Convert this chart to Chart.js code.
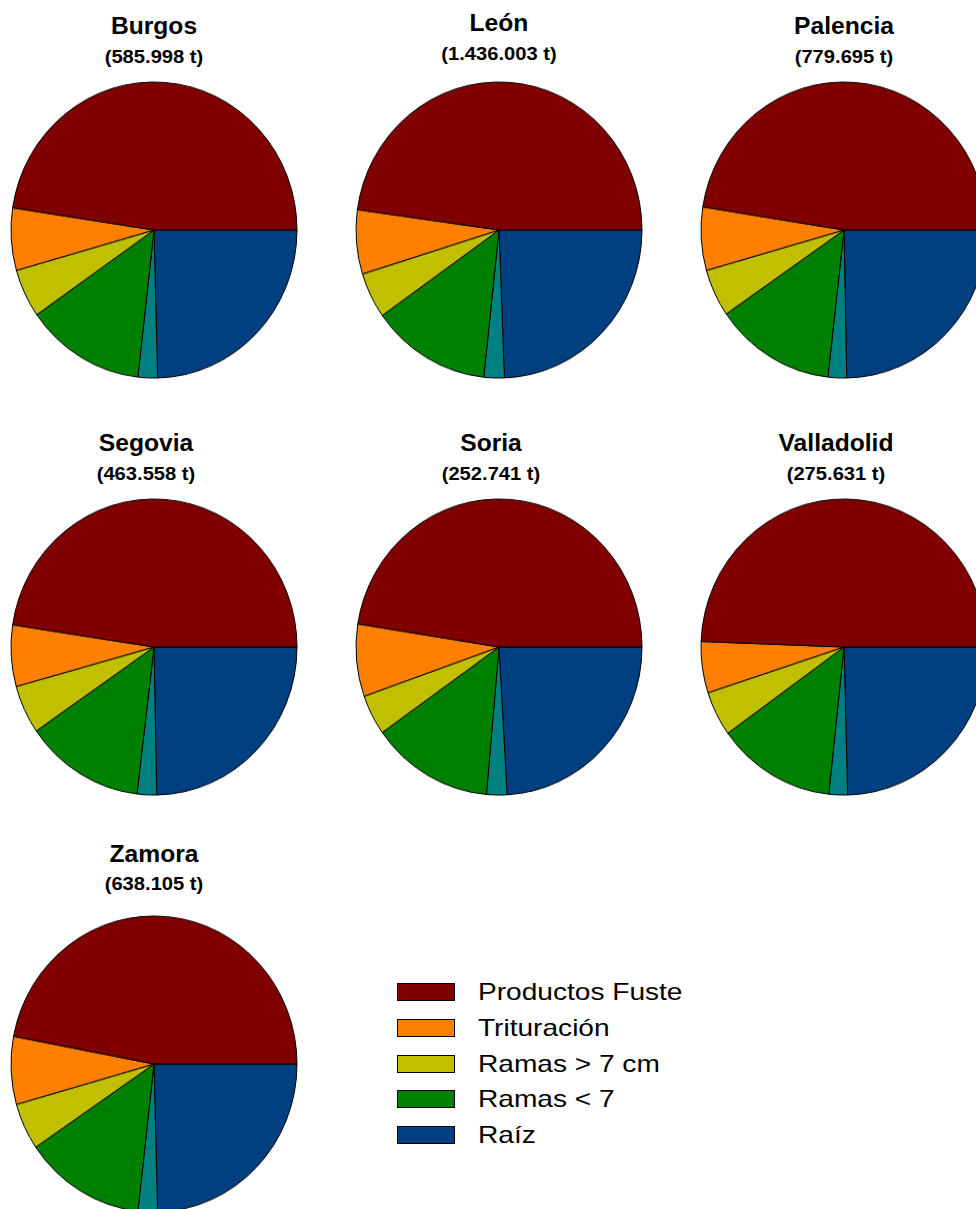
<!DOCTYPE html>
<html lang="es">
<head>
  <meta charset="UTF-8">
  <title>Biomasa por provincia</title>
  <script src="https://cdn.jsdelivr.net/npm/chart.js"></script>
  <style>
    html, body {
      margin: 0;
      width: 976px;
      height: 1209px;
      overflow: hidden;
      background: #fff;
    }
    body {
      position: relative;
      font-family: 'Liberation Sans', Arial, sans-serif;
      color: #000;
    }
    .title, .sub {
      position: absolute;
      width: 320px;
      text-align: center;
      font-weight: bold;
      line-height: 1;
      white-space: nowrap;
      transform-origin: 50% 50%;
    }
    .title { font-size: 23px; transform: scaleX(1.07); }
    .sub { font-size: 18px; transform: scaleX(1.12); }
    .pie {
      position: absolute;
      width: 300px;
      height: 300px;
      transform: scaleY(1.035);
      transform-origin: 50% 50%;
    }
    .legend-row {
      position: absolute;
      left: 397px;
      height: 18px;
    }
    .legend-row .box {
      position: absolute;
      left: 0;
      top: 0;
      width: 56px;
      height: 16px;
      border: 1px solid #000;
    }
    .legend-row .txt {
      position: absolute;
      left: 81px;
      top: -3px;
      font-size: 24px;
      line-height: 1;
      white-space: nowrap;
      transform: scaleX(1.17);
      transform-origin: 0 50%;
    }
  </style>
</head>
<body>
  <script>
    // categorias (la porcion verde azulada no aparece en la leyenda)
    const categories = ['Productos Fuste', 'Trituración', 'Ramas > 7 cm', 'Ramas < 7', '', 'Raíz'];
    const colors = ['#800000', '#ff8000', '#c0c000', '#008000', '#008080', '#004080'];

    const provinces = ['Burgos', 'León', 'Palencia', 'Segovia', 'Soria', 'Valladolid', 'Zamora'];
    const totals = ['(585.998 t)', '(1.436.003 t)', '(779.695 t)', '(463.558 t)', '(252.741 t)', '(275.631 t)', '(638.105 t)'];

    // % de cada fraccion, en el orden de categories
    const burgos     = [47.6, 6.8, 5.3, 13.5, 2.2, 24.6];
    const leon       = [47.8, 7.0, 5.0, 13.5, 2.3, 24.4];
    const palencia   = [47.5, 6.9, 5.2, 13.6, 2.1, 24.7];
    const segovia    = [47.6, 6.7, 5.3, 13.5, 2.2, 24.7];
    const soria      = [47.5, 7.9, 4.4, 13.8, 2.3, 24.1];
    const valladolid = [49.4, 5.6, 4.9, 13.4, 2.1, 24.6];
    const zamora     = [47.0, 7.4, 5.1, 13.7, 2.2, 24.6];
    const values = [burgos, leon, palencia, segovia, soria, valladolid, zamora];

    // layout: 3 columns, 3 rows
    const colX = [153.5, 498.5, 843.5];
    const rowY = [230, 647, 1064];
    const titleBase = [34, 451, 862];
    const subBase = [63, 480, 890];
    const titleShiftX = [0, -8, 0];
    const titleShiftY = [0, -3, 0, 0, 0, 0, 0];

    provinces.forEach((name, i) => {
      const col = i % 3, row = Math.floor(i / 3);
      const cx = colX[col], cy = rowY[row];
      const tx = cx + titleShiftX[row];

      const t = document.createElement('div');
      t.className = 'title';
      t.textContent = name;
      t.style.left = (tx - 160) + 'px';
      t.style.top = (titleBase[row] + titleShiftY[i] - 23 * 0.8465) + 'px';
      document.body.appendChild(t);

      const s = document.createElement('div');
      s.className = 'sub';
      s.textContent = totals[i];
      s.style.left = (tx - 160) + 'px';
      s.style.top = (subBase[row] + titleShiftY[i] - 18 * 0.8465) + 'px';
      document.body.appendChild(s);

      const wrap = document.createElement('div');
      wrap.className = 'pie';
      wrap.style.left = (cx - 150) + 'px';
      wrap.style.top = (cy - 150) + 'px';
      const canvas = document.createElement('canvas');
      canvas.width = 300;
      canvas.height = 300;
      wrap.appendChild(canvas);
      document.body.appendChild(wrap);

      // drawn clockwise from 3 o'clock, so reverse to get the counter-clockwise look
      new Chart(canvas.getContext('2d'), {
        type: 'pie',
        data: {
          labels: categories.slice().reverse(),
          datasets: [{
            data: values[i].slice().reverse(),
            backgroundColor: colors.slice().reverse(),
            borderColor: '#000',
            borderWidth: 1
          }]
        },
        options: {
          responsive: false,
          animation: false,
          rotation: 90,
          radius: 143,
          layout: { padding: 0 },
          plugins: {
            legend: { display: false },
            tooltip: { enabled: false }
          }
        }
      });
    });

    // legend
    categories.forEach((label, i) => {
      if (!label) return;
      const idx = i > 4 ? i - 1 : i;
      const row = document.createElement('div');
      row.className = 'legend-row';
      row.style.top = (983 + idx * 35.8) + 'px';
      const box = document.createElement('div');
      box.className = 'box';
      box.style.background = colors[i];
      const txt = document.createElement('div');
      txt.className = 'txt';
      txt.textContent = label;
      row.appendChild(box);
      row.appendChild(txt);
      document.body.appendChild(row);
    });
  </script>
</body>
</html>
